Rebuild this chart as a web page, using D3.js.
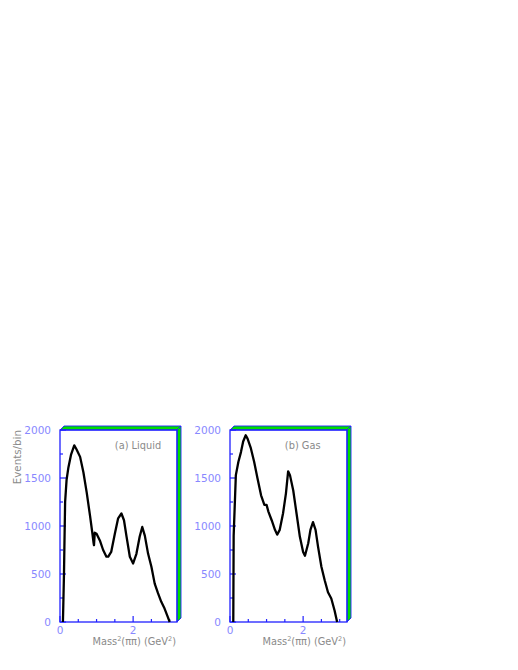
<!DOCTYPE html>
<html>
<head>
<meta charset="utf-8">
<script src="https://cdn.jsdelivr.net/npm/d3@7"></script>
<style>
  body { margin: 0; background: #fff; }
  svg text { font-family: "DejaVu Sans", sans-serif; }
</style>
</head>
<body>
<svg id="chart" width="518" height="670"></svg>
<script>
// mass^2 (GeV^2) and events/bin
const liquidX = [0.08, 0.09, 0.11, 0.12, 0.14, 0.18, 0.23, 0.30, 0.39, 0.45, 0.55, 0.64, 0.73, 0.82, 0.88, 0.92, 0.93, 0.95, 1.00, 1.09, 1.18, 1.27, 1.32, 1.40, 1.50, 1.59, 1.68, 1.75, 1.82, 1.91, 2.00, 2.09, 2.18, 2.25, 2.32, 2.41, 2.50, 2.59, 2.68, 2.77, 2.86, 2.95, 3.00];
const liquidY = [0, 170, 520, 780, 1250, 1480, 1610, 1740, 1840, 1800, 1720, 1560, 1350, 1110, 940, 820, 800, 930, 920, 850, 750, 680, 680, 730, 920, 1080, 1130, 1060, 890, 680, 610, 710, 890, 990, 900, 710, 575, 400, 300, 210, 140, 50, 0];

const gasX = [0.09, 0.10, 0.14, 0.16, 0.23, 0.30, 0.36, 0.43, 0.48, 0.57, 0.66, 0.75, 0.85, 0.94, 1.00, 1.05, 1.14, 1.23, 1.29, 1.36, 1.45, 1.53, 1.59, 1.64, 1.73, 1.82, 1.91, 2.00, 2.05, 2.14, 2.20, 2.27, 2.34, 2.41, 2.50, 2.59, 2.68, 2.77, 2.86, 2.93];
const gasY = [0, 900, 1320, 1530, 1670, 1770, 1880, 1945, 1910, 1810, 1670, 1500, 1320, 1220, 1220, 1150, 1060, 960, 910, 960, 1130, 1340, 1570, 1530, 1370, 1130, 890, 730, 690, 820, 960, 1040, 960, 780, 575, 435, 310, 245, 120, 0];

const yTickValues = [0, 500, 1000, 1500, 2000];
const xTickValues = [0, 2];
const panelNames = ["(a) Liquid", "(b) Gas"];

const svg = d3.select("#chart");
const blue = "#2020ff";
const lblue = "#8888ff";
const grey = "#8a8a8a";

const panels = [
  { left: 60, name: panelNames[0], xs: liquidX, ys: liquidY, ylabel: true },
  { left: 230, name: panelNames[1], xs: gasX, ys: gasY, ylabel: false }
];

const frameTop = 430, frameBottom = 622, w = 117, depth = 4;

const yScale = d3.scaleLinear().domain([0, 2000]).range([frameBottom, frameTop]);

panels.forEach((p) => {
  const xScale = d3.scaleLinear().domain([0, 3.2]).range([p.left, p.left + w]);
  const g = svg.append("g");

  // 3d frame bands
  const r = p.left + w;
  g.append("polygon")
    .attr("points", [[p.left, frameTop], [p.left + depth, frameTop - depth], [r + depth, frameTop - depth], [r, frameTop]].join(" "))
    .attr("fill", "#00dd00").attr("stroke", blue).attr("stroke-width", 0.9);
  g.append("polygon")
    .attr("points", [[r, frameTop], [r + depth, frameTop - depth], [r + depth, frameBottom - depth], [r, frameBottom]].join(" "))
    .attr("fill", "#00dd00").attr("stroke", blue).attr("stroke-width", 0.9);
  g.append("rect")
    .attr("x", p.left).attr("y", frameTop).attr("width", w).attr("height", frameBottom - frameTop)
    .attr("fill", "none").attr("stroke", blue).attr("stroke-width", 1.3);

  // y ticks
  d3.range(0, 2001, 250).forEach((v) => {
    const len = v % 500 === 0 ? 6 : 3;
    g.append("line")
      .attr("x1", p.left).attr("x2", p.left + len)
      .attr("y1", yScale(v)).attr("y2", yScale(v))
      .attr("stroke", blue).attr("stroke-width", 1.2);
  });
  g.selectAll("text.ytick")
    .data(yTickValues)
    .join("text")
    .attr("class", "ytick")
    .attr("x", p.left - 9)
    .attr("y", (d) => yScale(d) + 4)
    .attr("text-anchor", "end")
    .attr("font-size", 10.5)
    .attr("fill", lblue)
    .text((d) => d);

  // x ticks
  d3.range(0, 3.01, 0.5).forEach((v) => {
    const len = v % 2 === 0 ? 6 : 3;
    g.append("line")
      .attr("x1", xScale(v)).attr("x2", xScale(v))
      .attr("y1", frameBottom).attr("y2", frameBottom - len)
      .attr("stroke", blue).attr("stroke-width", 1.2);
  });
  g.selectAll("text.xtick")
    .data(xTickValues)
    .join("text")
    .attr("class", "xtick")
    .attr("x", (d) => xScale(d))
    .attr("y", frameBottom + 12)
    .attr("text-anchor", "middle")
    .attr("font-size", 10.5)
    .attr("fill", lblue)
    .text((d) => d);

  // x axis title
  const xt = g.append("text")
    .attr("x", r - 1).attr("y", 645)
    .attr("text-anchor", "end")
    .attr("font-size", 9.8)
    .attr("fill", grey);
  xt.append("tspan").text("Mass");
  xt.append("tspan").attr("font-size", 6.5).attr("dy", -4).text("2");
  xt.append("tspan").attr("dy", 4).text("(ππ) (GeV");
  xt.append("tspan").attr("font-size", 6.5).attr("dy", -4).text("2");
  xt.append("tspan").attr("dy", 4).text(")");

  // panel label
  g.append("text")
    .attr("x", xScale(1.5)).attr("y", 449)
    .attr("font-size", 9.8)
    .attr("fill", grey)
    .text(p.name);

  if (p.ylabel) {
    g.append("text")
      .attr("transform", `translate(21,${frameTop}) rotate(-90)`)
      .attr("text-anchor", "end")
      .attr("font-size", 10.3)
      .attr("fill", grey)
      .text("Events/bin");
  }

  // data curve
  const pts = p.xs.map((x, i) => [x, p.ys[i]]);
  const line = d3.line().x((d) => xScale(d[0])).y((d) => yScale(d[1]));
  g.append("path")
    .attr("d", line(pts))
    .attr("fill", "none")
    .attr("stroke", "#000")
    .attr("stroke-width", 2.3)
    .attr("stroke-linejoin", "round");
});
</script>
</body>
</html>
